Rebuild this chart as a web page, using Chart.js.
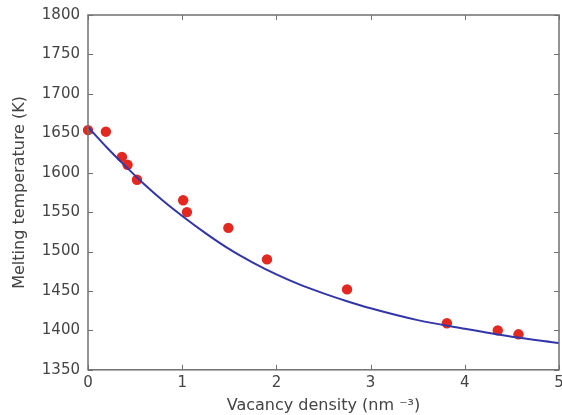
<!DOCTYPE html>
<html>
<head>
<meta charset="utf-8">
<script src="https://cdn.jsdelivr.net/npm/chart.js@4/dist/chart.umd.min.js"></script>
<style>
  html, body { margin: 0; padding: 0; background: #fff; }
  #wrap { width: 562px; height: 415px; }
</style>
</head>
<body>
<div id="wrap"><canvas id="c" width="562" height="415"></canvas></div>
<script>
// Measured data (red points)
const densityPoints = [0, 0.19, 0.36, 0.42, 0.52, 1.01, 1.05, 1.49, 1.90, 2.75, 3.81, 4.35, 4.57];
const meltingPoints = [1654, 1652, 1620, 1610, 1591, 1565, 1550, 1530, 1490, 1452, 1409, 1400, 1395];

// Fitted curve (blue line)
const curveDensity = [0, 0.2, 0.4, 0.6, 0.8, 1.0, 1.25, 1.5, 1.75, 2.0, 2.25, 2.5, 2.75, 3.0, 3.5, 4.0, 4.5, 5.0];
const curveMelting = [1658, 1632, 1608, 1585, 1564, 1545, 1523, 1503, 1486, 1471, 1458, 1447, 1437, 1428, 1413, 1402, 1392, 1384];

// Axis ticks
const xTicks = [0, 1, 2, 3, 4, 5];
const yTicks = [1350, 1400, 1450, 1500, 1550, 1600, 1650, 1700, 1750, 1800];

const axisColor = '#707070';
const labelColor = '#444444';
const fontFamily = '"DejaVu Sans", sans-serif';

const framePlugin = {
  id: 'frame',
  afterDatasetsDraw(chart) {
    const ctx = chart.ctx;
    const a = chart.chartArea;
    const xs = chart.scales.x, ys = chart.scales.y;
    ctx.save();
    ctx.strokeStyle = axisColor;
    ctx.lineWidth = 1.5;
    ctx.strokeRect(a.left, a.top, a.right - a.left, a.bottom - a.top);
    ctx.lineWidth = 1;
    const tl = 5;
    ctx.beginPath();
    xTicks.forEach(v => {
      const px = Math.round(xs.getPixelForValue(v)) + 0.5;
      ctx.moveTo(px, a.bottom); ctx.lineTo(px, a.bottom - tl);
      ctx.moveTo(px, a.top); ctx.lineTo(px, a.top + tl);
    });
    yTicks.forEach(v => {
      const py = Math.round(ys.getPixelForValue(v)) + 0.5;
      ctx.moveTo(a.left, py); ctx.lineTo(a.left + tl, py);
      ctx.moveTo(a.right, py); ctx.lineTo(a.right - tl, py);
    });
    ctx.stroke();
    ctx.restore();
  }
};

new Chart(document.getElementById('c'), {
  type: 'scatter',
  data: {
    datasets: [
      {
        type: 'line',
        label: 'fit',
        data: curveDensity.map((x, i) => ({ x, y: curveMelting[i] })),
        borderColor: '#3236a8',
        borderWidth: 2,
        pointRadius: 0,
        cubicInterpolationMode: 'monotone',
        fill: false,
        order: 0
      },
      {
        type: 'scatter',
        label: 'data',
        data: densityPoints.map((x, i) => ({ x, y: meltingPoints[i] })),
        backgroundColor: '#e3291f',
        borderColor: '#e3291f',
        borderWidth: 0,
        pointRadius: 5.2,
        clip: false,
        order: 1
      }
    ]
  },
  options: {
    responsive: false,
    animation: false,
    layout: { autoPadding: false, padding: { left: 0, right: 3, top: 15, bottom: 0 } },
    plugins: {
      legend: { display: false },
      tooltip: { enabled: false }
    },
    scales: {
      x: {
        type: 'linear',
        min: 0, max: 5,
        afterBuildTicks(scale) { scale.ticks = xTicks.map(v => ({ value: v })); },
        afterFit(scale) { scale.paddingLeft = 0; scale.paddingRight = 0; },
        grid: { display: false, drawTicks: false, tickLength: 0 },
        border: { display: false },
        ticks: {
          padding: 4,
          color: labelColor,
          font: { family: fontFamily, size: 15 },
          callback: v => String(v)
        },
        title: {
          display: true,
          text: 'Vacancy density (nm \u207B\u00B3)',
          color: labelColor,
          font: { family: fontFamily, size: 16 },
          padding: { top: 0, bottom: 0 }
        }
      },
      y: {
        type: 'linear',
        min: 1350, max: 1800,
        afterBuildTicks(scale) { scale.ticks = yTicks.map(v => ({ value: v })); },
        afterFit(scale) { scale.width = 88; scale.paddingTop = 0; scale.paddingBottom = 0; },
        grid: { display: false, drawTicks: false, tickLength: 0 },
        border: { display: false },
        ticks: {
          padding: 8,
          color: labelColor,
          font: { family: fontFamily, size: 15 },
          callback: v => String(v)
        },
        title: {
          display: true,
          text: 'Melting temperature (K)',
          color: labelColor,
          font: { family: fontFamily, size: 16 },
          padding: { top: 10, bottom: 4 }
        }
      }
    }
  },
  plugins: [framePlugin]
});
</script>
</body>
</html>
